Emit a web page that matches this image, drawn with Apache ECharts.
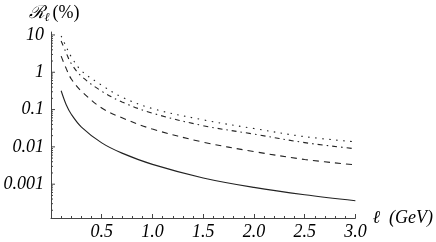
<!DOCTYPE html>
<html><head><meta charset="utf-8">
<script src="https://cdn.jsdelivr.net/npm/echarts@6/dist/echarts.min.js"></script>
<style>html,body{margin:0;padding:0;background:#fff}#c{width:436px;height:242px}</style>
</head><body><div id="c"></div>
<script>
// Data (x in GeV, R in %)
var xs = [0.1, 0.15, 0.2, 0.3, 0.5, 0.7, 1.0, 1.5, 2.0, 2.5, 3.0];
var solid   = [0.32, 0.135, 0.075, 0.034, 0.0128, 0.0068, 0.0034, 0.00147, 0.00082, 0.00052, 0.00036];
var dashed  = [2.7, 1.25, 0.66, 0.31, 0.11, 0.060, 0.030, 0.0134, 0.0075, 0.0046, 0.0033];
var dashdot = [6.9, 3.3, 1.7, 0.78, 0.31, 0.16, 0.080, 0.037, 0.022, 0.013, 0.0089];
var dotted  = [9.4, 4.8, 2.6, 1.1, 0.45, 0.215, 0.106, 0.053, 0.031, 0.0188, 0.0136];
var yTickLabels = {'1': '10', '0': '1', '-1': '0.1', '-2': '0.01', '-3': '0.001'};
var xTickLabels = ['0.5', '1.0', '1.5', '2.0', '2.5', '3.0'];

function pairs(ys) { return xs.map(function (x, i) { return [x, ys[i]]; }); }

// log-axis tick positions (major at powers of ten, minor at 2..9)
var yMin = 1.24e-4, yMax = 12;
var tickData = [];
for (var e = -4; e <= 1; e++) {
  for (var m = 1; m <= 9; m++) {
    var v = m * Math.pow(10, e);
    if (v >= yMin && v <= yMax) tickData.push([0, v, m === 1 ? 1 : 0]);
  }
}

var font = 'Liberation Serif';
var chart = echarts.init(document.getElementById('c'), null, {renderer: 'canvas'});
var lineCol = '#222';
function lineSeries(ys, type) {
  return {
    type: 'line', data: pairs(ys), smooth: 0.35, symbol: 'none',
    lineStyle: {color: lineCol, width: 1.1, type: type}, z: 3
  };
}
chart.setOption({
  animation: false,
  backgroundColor: '#fff',
  grid: {left: 51, right: 78, top: 32, bottom: 24},
  xAxis: {
    type: 'value', min: 0, max: 3, interval: 0.5,
    name: '\u2113  (GeV)', nameLocation: 'end', nameGap: -2,
    nameTextStyle: {fontFamily: font, fontStyle: 'italic', fontSize: 18, color: '#000', verticalAlign: 'middle', padding: [0, 0, 12, 0]},
    axisLine: {lineStyle: {color: '#444', width: 1}},
    axisTick: {inside: true, length: 4, lineStyle: {color: '#444'}},
    minorTick: {show: true, splitNumber: 5, length: 2, lineStyle: {color: '#444'}},
    splitLine: {show: false},
    axisLabel: {
      fontFamily: font, fontStyle: 'italic', fontSize: 18, color: '#000', margin: 5,
      formatter: function (v) { var i = Math.round(v / 0.5) - 1; return i >= 0 ? xTickLabels[i] : ''; }
    }
  },
  yAxis: {
    type: 'log', logBase: 10, min: yMin, max: yMax,
    name: '{r|\u211B}{s|\u2113}{p|(%)}', nameLocation: 'end', nameGap: 8,
    nameTextStyle: {
      align: 'center', padding: [0, 0, 0, 6],
      rich: {
        r: {fontFamily: 'DejaVu Serif', fontStyle: 'italic', fontSize: 18, color: '#000'},
        s: {fontFamily: font, fontStyle: 'italic', fontSize: 12, color: '#000', padding: [10, 3, 0, 0]},
        p: {fontFamily: font, fontSize: 18, color: '#000'}
      }
    },
    axisLine: {show: true, lineStyle: {color: '#444', width: 1}},
    axisTick: {show: false},
    splitLine: {show: false},
    axisLabel: {
      fontFamily: font, fontStyle: 'italic', fontSize: 18, color: '#000', margin: 7,
      formatter: function (v) {
        var l = Math.log(v) / Math.LN10, r = Math.round(l);
        return Math.abs(l - r) < 1e-6 && yTickLabels[String(r)] ? yTickLabels[String(r)] : '';
      }
    }
  },
  series: [
    lineSeries(solid, 'solid'),
    lineSeries(dashed, [6, 5]),
    lineSeries(dashdot, [5, 4, 1.5, 4]),
    lineSeries(dotted, [1.5, 5.5]),
    {
      type: 'custom', data: tickData, silent: true, z: 4, clip: false,
      renderItem: function (params, api) {
        var p = api.coord([api.value(0), api.value(1)]);
        var len = api.value(2) ? 4 : 2;
        return {type: 'line', shape: {x1: p[0], y1: p[1], x2: p[0] + len, y2: p[1]},
                style: {stroke: '#444', lineWidth: 1}};
      }
    }
  ]
});
</script></body></html>
